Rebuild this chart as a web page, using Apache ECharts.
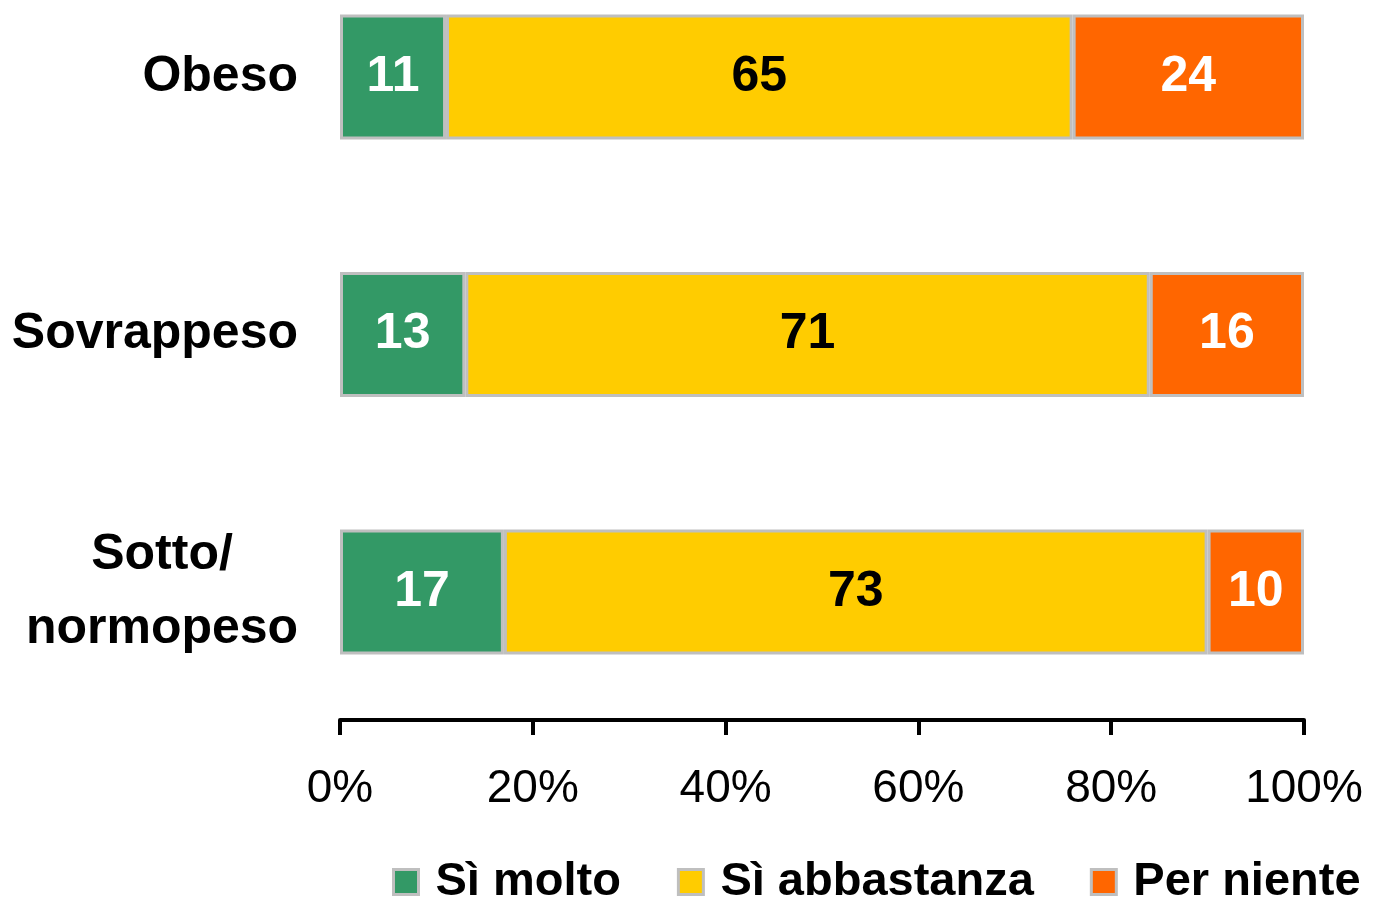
<html>
<head>
<meta charset="utf-8">
<script src="https://cdn.jsdelivr.net/npm/echarts@6/dist/echarts.min.js"></script>
<style>
  html, body { margin: 0; padding: 0; background: #fff; }
  #chart { width: 1383px; height: 906px; }
</style>
</head>
<body>
<div id="chart"></div>
<script type="text/javascript">

var categories = ['Obeso', 'Sovrappeso', 'Sotto/\nnormopeso'];
var molto = [11, 13, 17];
var abbastanza = [65, 71, 73];
var perNiente = [24, 16, 10];
var seriesNames = ['Sì molto', 'Sì abbastanza', 'Per niente'];

var font = '"Liberation Sans Narrow", "Liberation Sans", Arial, sans-serif';

function barSeries(name, values, color, labelColor) {
    return {
        name: name,
        type: 'bar',
        stack: 'tot',
        barWidth: 125,
        data: values,
        itemStyle: {
            color: color,
            borderColor: '#BFBFBF',
            borderWidth: 3
        },
        label: {
            show: true,
            position: 'inside',
            color: labelColor,
            fontFamily: font,
            fontWeight: 'bold',
            fontSize: 50
        }
    };
}

// category ticks sit on the grid edges (boundaryGap false), x axis pushed down with offset
var option = {
    animation: false,
    textStyle: { fontFamily: font },
    grid: {
        left: 340,
        right: 79,
        top: 77,
        bottom: 314
    },
    legend: {
        top: 858,
        left: 392,
        width: 991,
        padding: 0,
        itemWidth: 25,
        itemHeight: 25,
        itemGap: 56,
        icon: 'rect',
        itemStyle: { borderColor: '#BFBFBF', borderWidth: 3 },
        textStyle: {
            fontFamily: font,
            fontWeight: 'bold',
            fontSize: 47,
            lineHeight: 48,
            color: '#000',
            padding: [0, 0, 0, 12]
        },
        data: seriesNames
    },
    xAxis: {
        type: 'value',
        min: 0,
        max: 100,
        interval: 20,
        offset: 128,
        axisLine: { show: true, lineStyle: { color: '#000', width: 4 } },
        axisTick: { show: true, length: 15, lineStyle: { color: '#000', width: 4 } },
        splitLine: { show: false },
        axisLabel: {
            formatter: '{value}%',
            color: '#000',
            fontFamily: font,
            fontSize: 46,
            margin: 46
        }
    },
    yAxis: {
        type: 'category',
        inverse: true,
        boundaryGap: false,
        data: categories,
        axisLine: { show: false },
        axisTick: { show: false },
        axisLabel: {
            color: '#000',
            fontFamily: font,
            fontWeight: 'bold',
            fontSize: 50,
            margin: 42,
            lineHeight: 70,
            formatter: function (v) {
                if (v.indexOf('\n') >= 0) {
                    return v.split('\n').map(function (s) { return '{c|' + s + '}'; }).join('\n');
                }
                return v;
            },
            rich: {
                c: {
                    width: 272,
                    align: 'center',
                    fontFamily: font,
                    fontWeight: 'bold',
                    fontSize: 50,
                    lineHeight: 74,
                    color: '#000'
                }
            }
        }
    },
    series: [
        barSeries(seriesNames[0], molto, '#339966', '#fff'),
        barSeries(seriesNames[1], abbastanza, '#FFCC00', '#000'),
        barSeries(seriesNames[2], perNiente, '#FF6600', '#fff')
    ]
};

var chart = echarts.init(document.getElementById('chart'));
chart.setOption(option);

</script>
</body>
</html>
